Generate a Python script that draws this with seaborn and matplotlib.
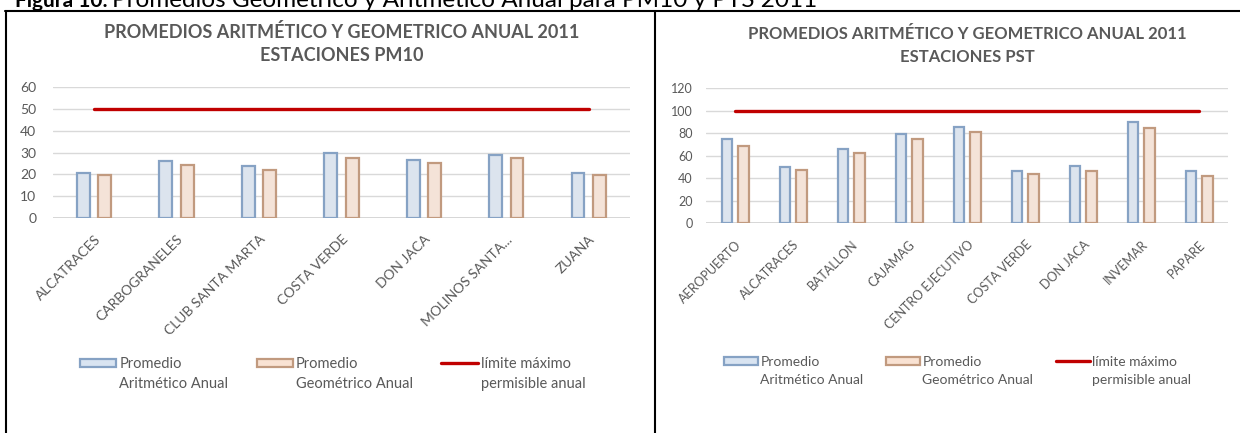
import numpy as np
import pandas as pd
import seaborn as sns
import matplotlib.pyplot as plt
from matplotlib.lines import Line2D
from matplotlib.patches import Rectangle

# data
pm10_estaciones = ["ALCATRACES", "CARBOGRANELES", "CLUB SANTA MARTA", "COSTA VERDE",
                   "DON JACA", "MOLINOS SANTA...", "ZUANA"]
pm10_aritmetico = [20.6, 26.0, 23.8, 29.6, 26.5, 28.8, 20.8]
pm10_geometrico = [19.8, 24.5, 21.8, 27.3, 25.0, 27.3, 19.9]
pm10_limite = [50] * len(pm10_estaciones)

pst_estaciones = ["AEROPUERTO", "ALCATRACES", "BATALLON", "CAJAMAG", "CENTRO EJECUTIVO",
                  "COSTA VERDE", "DON JACA", "INVEMAR", "PAPARE"]
pst_aritmetico = [74.7, 49.8, 66.3, 79.1, 85.9, 46.8, 50.9, 89.8, 46.8]
pst_geometrico = [69.0, 47.4, 62.2, 74.7, 81.4, 43.5, 46.8, 84.4, 42.0]
pst_limite = [100] * len(pst_estaciones)

lab_arit = "Promedio\nAritmético Anual"
lab_geom = "Promedio\nGeométrico Anual"
lab_lim = "límite máximo\npermisible anual"

sns.set_style("white")
plt.rcParams["font.family"] = ["Lato", "DejaVu Sans"]

GRAY = "#595959"
face = {lab_arit: "#d9e4f1", lab_geom: "#f9e2d3"}
edge = {lab_arit: "#86a2c4", lab_geom: "#c19a7f"}

fig = plt.figure(figsize=(12.4, 4.33), dpi=100)


def panel(rect, cats, arit, geom, lim, ymax, step, title, width, gap, s):
    ax = fig.add_axes(rect)
    df = pd.DataFrame({
        "estacion": cats * 2,
        "valor": arit + geom,
        "serie": [lab_arit] * len(cats) + [lab_geom] * len(cats),
    })
    sns.barplot(data=df, x="estacion", y="valor", hue="serie", order=cats,
                palette=face, width=width, gap=gap, ax=ax, legend=False)
    for cont, lab in zip(ax.containers, [lab_arit, lab_geom]):
        for bar in cont:
            bar.set_edgecolor(edge[lab])
            bar.set_linewidth(1.6)
    sns.lineplot(x=list(range(len(cats))), y=lim, color="#c00000", linewidth=2.4, ax=ax)
    ax.set_ylim(0, ymax)
    ax.set_xlim(-0.5, len(cats) - 0.5)
    ax.set_yticks(np.arange(0, ymax + 1, step))
    ax.yaxis.grid(True, color="#d9d9d9", linewidth=1)
    ax.set_axisbelow(True)
    for sp in ax.spines.values():
        sp.set_visible(False)
    ax.axhline(0, color="#d0d0d0", linewidth=1.2, zorder=0)
    ax.set_xlabel("")
    ax.set_ylabel("")
    ax.tick_params(length=0, labelcolor=GRAY)
    ax.tick_params(axis="y", labelsize=s["ytick"], pad=s["ypad"])
    ax.set_xticks(range(len(cats)))
    ax.set_xticklabels(cats, rotation=45, ha="right", rotation_mode="anchor")
    ax.tick_params(axis="x", labelsize=s["xtick"], pad=s["xpad"])
    ax.set_title(title, fontsize=s["title"], fontweight="bold", color=GRAY,
                 pad=s["tpad"], linespacing=s["tls"])

    handles = [
        Rectangle((0, 0), 1, 1, facecolor=face[lab_arit], edgecolor=edge[lab_arit], linewidth=1.6),
        Rectangle((0, 0), 1, 1, facecolor=face[lab_geom], edgecolor=edge[lab_geom], linewidth=1.6),
        Line2D([], [], color="#c00000", linewidth=2.4),
    ]
    leg = ax.legend(handles, [lab_arit, lab_geom, lab_lim], ncol=3, frameon=False,
                    loc="upper left", bbox_to_anchor=(s["legx"], 0.19),
                    bbox_transform=fig.transFigure, fontsize=s["leg"], labelcolor=GRAY,
                    handlelength=s["hl"], handleheight=0.5, handletextpad=0.2,
                    columnspacing=s["cs"], borderaxespad=0)
    for t in leg.get_texts():
        t.set_linespacing(1.55)
    # handles sit next to the first text line, as in the source chart
    shift = s["hshift"]
    for h in leg.legend_handles:
        if isinstance(h, Rectangle):
            h.set_y(h.get_y() + shift)
        else:
            h.set_ydata(np.asarray(h.get_ydata()) + shift)
    return ax


panel([0.0427, 0.4965, 0.4653, 0.3025], pm10_estaciones, pm10_aritmetico, pm10_geometrico,
      pm10_limite, 60, 10, "PROMEDIOS ARITMÉTICO Y GEOMETRICO ANUAL 2011\nESTACIONES PM10",
      0.52, 0.4,
      dict(ytick=10, ypad=12, xtick=10, xpad=11, title=13, tpad=19, tls=1.4,
           leg=10.5, legx=0.0597, hl=2.5, cs=1.95, hshift=8))
panel([0.5694, 0.4843, 0.421, 0.3117], pst_estaciones, pst_aritmetico, pst_geometrico,
      pst_limite, 120, 20, "PROMEDIOS ARITMÉTICO Y GEOMETRICO ANUAL 2011\nESTACIONES PST",
      0.57, 0.37,
      dict(ytick=9, ypad=9.5, xtick=9, xpad=11, title=12, tpad=19, tls=1.5,
           leg=10, legx=0.579, hl=2.45, cs=1.6, hshift=7.5))

# page borders of the document table
fig.add_artist(Line2D([5 / 1240, 1], [1 - 11 / 433] * 2, color="black", linewidth=1.5))
fig.add_artist(Line2D([6 / 1240] * 2, [0, 1 - 11 / 433], color="black", linewidth=1.5))
fig.add_artist(Line2D([655 / 1240] * 2, [0, 1 - 11 / 433], color="black", linewidth=1.5))

# caption, cut at the top edge like in the source page
fig.text(15 / 1240, 1 - 7 / 433, "Figura 10:", fontsize=15, fontweight="bold",
         color="black", va="baseline")
fig.text(112 / 1240, 1 - 7 / 433, "Promedios Geométrico y Aritmético Anual para PM10 y PTS 2011",
         fontsize=17.5, color="black", va="baseline")

fig.savefig("out.png", dpi=100)
